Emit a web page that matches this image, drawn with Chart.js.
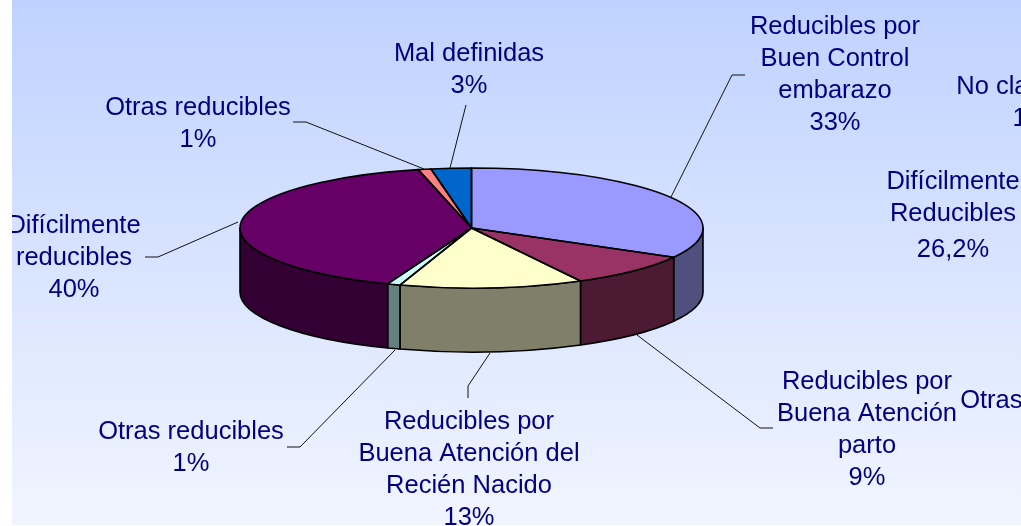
<!DOCTYPE html>
<html>
<head>
<meta charset="utf-8">
<style>html,body{margin:0;padding:0;background:#fff;overflow:hidden}canvas{display:block}</style>
<script src="https://cdn.jsdelivr.net/npm/chart.js@4"></script>
</head>
<body>
<canvas id="c" width="1021" height="526"></canvas>
<script>
const categories = ['Reducibles por Buen Control embarazo','Reducibles por Buena Atención parto','Reducibles por Buena Atención del Recién Nacido','Otras reducibles','Difícilmente reducibles','Otras reducibles','Mal definidas'];
const values = [33.1, 9.1, 12.8, 0.9, 40.4, 0.9, 2.8];
const topColors = ['#9999FF','#993366','#FFFFCC','#CCFFFF','#660066','#FF8080','#0066CC'];
const wallColors = ['#50507F','#4D1A33','#80806A','#668080','#330033','#804040','#003366'];

const labelLines = [
  ['Reducibles por','Buen Control','embarazo'],
  ['Reducibles por','Buena Atención','parto'],
  ['Reducibles por','Buena Atención del','Recién Nacido'],
  ['Otras reducibles'],
  ['Difícilmente','reducibles'],
  ['Otras reducibles'],
  ['Mal definidas']
];
const labelPlaces = [
  {x:835,y:27},{x:867,y:382},{x:469,y:422},{x:191,y:432},{x:74,y:226},{x:198,y:108},{x:469,y:54}
];
const leaders = [
  [[671,197],[732,75],[745,75]],
  [[637,335],[760,428],[773,428]],
  [[490,353],[468,386],[468,398]],
  [[395,350],[300,447],[287,447]],
  [[238,222],[158,257],[145,257]],
  [[424,169],[306,122],[293,122]],
  [[450,168],[466,105]]
];
const behindTexts = [
  {t:'No clasificadas',x:1042,y:87},{t:'1%',x:1031,y:119},
  {t:'Difícilmente',x:953,y:182},{t:'Reducibles',x:953,y:214},{t:'26,2%',x:953,y:250},
  {t:'Otras reducibles',x:1053,y:401}
];

const CX = 471.5, CY = 228, RX = 231.5, RY = 60, DEPTH = 64;
const FONT = '25.5px "Liberation Sans", Arial, sans-serif';
const INK = '#000080';

const pie3d = {
  id:'pie3d',
  beforeDraw(chart){
    const {ctx,width,height} = chart;
    ctx.save();
    ctx.fillStyle = '#fff';
    ctx.fillRect(0,0,width,height);
    const g = ctx.createLinearGradient(0,0,0,525);
    g.addColorStop(0,'#BFD2FF');
    g.addColorStop(1,'#F1F5FF');
    ctx.fillStyle = g;
    ctx.fillRect(12,0,width-12,525);
    ctx.restore();
  },
  beforeDatasetsDraw(chart){
    const {ctx} = chart;
    const arcs = chart.getDatasetMeta(0).data;
    ctx.save();
    ctx.lineWidth = 1.6;
    ctx.strokeStyle = '#000';
    ctx.lineJoin = 'round';
    arcs.forEach((arc,i)=>{
      const a1 = Math.max(arc.startAngle,0), a2 = Math.min(arc.endAngle,Math.PI);
      if (a2 <= a1) return;
      ctx.beginPath();
      ctx.ellipse(CX,CY,RX,RY,0,a1,a2);
      ctx.ellipse(CX,CY+DEPTH,RX,RY,0,a2,a1,true);
      ctx.closePath();
      ctx.fillStyle = wallColors[i];
      ctx.fill();
      ctx.stroke();
    });
    ctx.restore();
    const c = arcs[0];
    ctx.save();
    ctx.translate(CX,CY);
    ctx.scale(RX/c.outerRadius,RY/c.outerRadius);
    ctx.translate(-c.x,-c.y);
  },
  afterDatasetsDraw(chart){
    const {ctx,width,height} = chart;
    ctx.restore();
    const arcs = chart.getDatasetMeta(0).data;
    ctx.save();
    ctx.lineWidth = 1.6;
    ctx.strokeStyle = '#000';
    ctx.lineJoin = 'round';
    arcs.forEach(arc=>{
      ctx.beginPath();
      ctx.moveTo(CX,CY);
      ctx.ellipse(CX,CY,RX,RY,0,arc.startAngle,arc.endAngle);
      ctx.closePath();
      ctx.stroke();
    });
    ctx.lineWidth = 1;
    ctx.strokeStyle = '#111';
    leaders.forEach(pts=>{
      ctx.beginPath();
      pts.forEach((p,k)=> k ? ctx.lineTo(p[0],p[1]) : ctx.moveTo(p[0],p[1]));
      ctx.stroke();
    });
    ctx.beginPath();
    ctx.rect(12,0,width-12,height);
    ctx.clip();
    ctx.font = FONT;
    ctx.fillStyle = INK;
    ctx.textAlign = 'center';
    ctx.textBaseline = 'middle';
    const step = 32;
    labelLines.forEach((lines,i)=>{
      const all = lines.concat(Math.round(values[i])+'%');
      all.forEach((s,k)=> ctx.fillText(s,labelPlaces[i].x,labelPlaces[i].y+k*step));
    });
    behindTexts.forEach(b=> ctx.fillText(b.t,b.x,b.y));
    ctx.restore();
  }
};

new Chart(document.getElementById('c'),{
  type:'pie',
  data:{labels:categories,datasets:[{data:values,backgroundColor:topColors,borderWidth:0}]},
  options:{
    responsive:false,
    animation:false,
    layout:{padding:{left:0,right:79,top:0,bottom:64}},
    plugins:{legend:{display:false},tooltip:{enabled:false},title:{display:false}}
  },
  plugins:[pie3d]
});
</script>
</body>
</html>
